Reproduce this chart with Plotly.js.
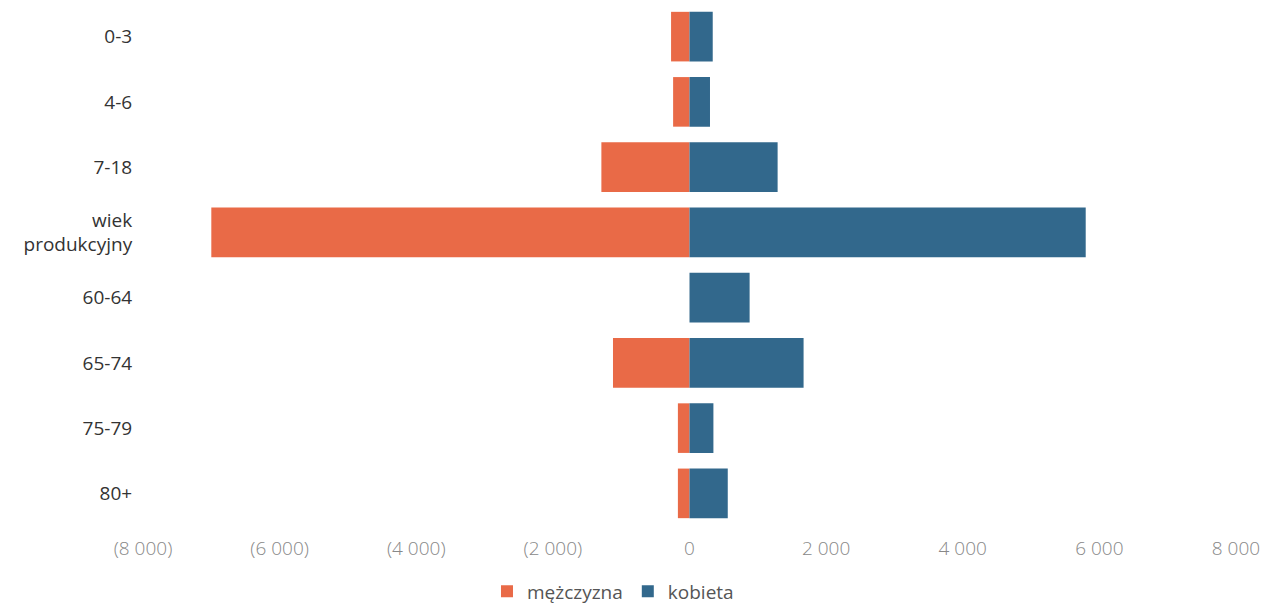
<!DOCTYPE html>
<html>
<head>
<meta charset="utf-8">
<script src="https://cdn.plot.ly/plotly-3.0.1.min.js"></script>
<style>html,body{margin:0;padding:0;background:#fff;}#chart{width:1273px;height:606px;}</style>
</head>
<body>
<div id="chart"></div>
<script>
const categories = ["0-3", "4-6", "7-18", "wiek<br>produkcyjny", "60-64", "65-74", "75-79", "80+"];
const maleValues = [-270, -240, -1290, -7000, 0, -1120, -170, -170];
const femaleValues = [340, 300, 1290, 5800, 880, 1670, 350, 560];
const seriesNames = ["mężczyzna", "kobieta"];
const xTickVals = [-8000, -6000, -4000, -2000, 0, 2000, 4000, 6000, 8000];
const xTickText = ["(8 000)", "(6 000)", "(4 000)", "(2 000)", "0", "2 000", "4 000", "6 000", "8 000"];

const traces = [
  {type: "bar", orientation: "h", name: seriesNames[0], y: categories, x: maleValues,
   marker: {color: "#E96A47"}, hoverinfo: "x+y"},
  {type: "bar", orientation: "h", name: seriesNames[1], y: categories, x: femaleValues,
   marker: {color: "#32688C"}, hoverinfo: "x+y"}
];

const layout = {
  width: 1273, height: 606,
  margin: {l: 143, r: 37, t: 4, b: 80},
  paper_bgcolor: "#fff", plot_bgcolor: "#fff",
  barmode: "relative",
  bargap: 0.24,
  showlegend: true,
  legend: {orientation: "h", x: 0.43, xanchor: "center", xref: "paper",
           y: 0.024, yanchor: "middle", yref: "container",
           font: {family: "Open Sans, sans-serif", size: 19, color: "#555"},
           traceorder: "normal"},
  xaxis: {range: [-8000, 8000], tickvals: xTickVals, ticktext: xTickText,
          showgrid: false, zeroline: false, showline: false, automargin: false,
          ticks: "outside", ticklen: 5, tickcolor: "rgba(0,0,0,0)",
          tickfont: {family: "Open Sans, sans-serif", size: 19, weight: 300, color: "#888"}},
  yaxis: {autorange: "reversed", showgrid: false, zeroline: false, showline: false, automargin: false,
          ticks: "outside", ticklen: 6, tickcolor: "rgba(0,0,0,0)",
          tickfont: {family: "Open Sans, sans-serif", size: 19, color: "#333"}},
  font: {family: "Open Sans, sans-serif"}
};

Plotly.newPlot("chart", traces, layout, {displayModeBar: false, staticPlot: true});
</script>
</body>
</html>
